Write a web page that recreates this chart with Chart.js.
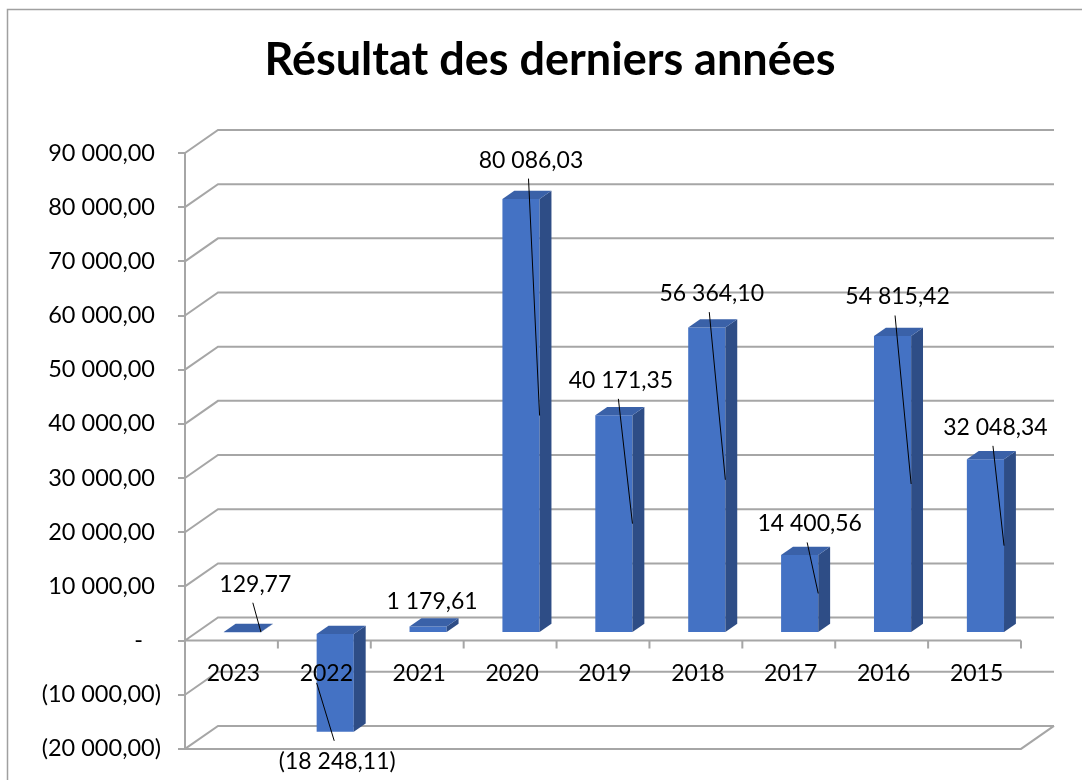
<!DOCTYPE html>
<html>
<head>
<meta charset="utf-8">
<script src="https://cdn.jsdelivr.net/npm/chart.js@4.4.1/dist/chart.umd.min.js"></script>
<style>
    html, body { margin: 0; padding: 0; background: #fff; }
    #wrap { width: 1082px; height: 780px; }
</style>
</head>
<body>
<div id="wrap"><canvas id="myChart"></canvas></div>
<script>
// data
const chartTitle = 'Résultat des derniers années';
const years = ['2023', '2022', '2021', '2020', '2019', '2018', '2017', '2016', '2015'];
const results = [129.77, -18248.11, 1179.61, 80086.03, 40171.35, 56364.10, 14400.56, 54815.42, 32048.34];
const yTickValues = [-20000, -10000, 0, 10000, 20000, 30000, 40000, 50000, 60000, 70000, 80000, 90000];

// where Excel put the value labels (px from the end of the bar) and which ones have a leader line
const labelShift = [[13, -48], [2, 30], [4, -25], [10, -39], [7, -35], [5, -34], [10, -31], [5, -39], [10, -32]];
const hasLeader = [true, true, false, true, true, true, true, true, true];

// fake 3d: depth of the plot box and of the bars
const DX = 33, DY = -23;
const BAR_FRONT = 0.33, BAR_DEPTH = 0.36;
const GRID = '#A6A6A6';
const FONT = 'Lato, "Open Sans", sans-serif';

function fmt(v) {
    const parts = Math.abs(v).toFixed(2).split('.');
    const txt = parts[0].replace(/\B(?=(\d{3})+(?!\d))/g, ' ') + ',' + parts[1];
    return v < 0 ? '(' + txt + ')' : txt;
}

// accounting style axis labels
function axisLabel(v) {
    if (v === 0) return '-   ';
    if (v < 0) return fmt(v);
    return fmt(v) + ' ';
}

const excel3d = {
    id: 'excel3d',
    beforeDraw(chart) {
        const ctx = chart.ctx;
        ctx.save();
        ctx.fillStyle = '#fff';
        ctx.fillRect(0, 0, chart.width, chart.height);
        ctx.strokeStyle = '#A0A0A0';
        ctx.lineWidth = 1.5;
        ctx.strokeRect(7.5, 9.5, chart.width + 20, chart.height + 20);
        // title (Excel centres it a bit right of the canvas centre)
        ctx.fillStyle = '#000';
        ctx.font = 'bold 45px ' + FONT;
        ctx.textAlign = 'center';
        ctx.textBaseline = 'middle';
        ctx.fillText(chartTitle, 550, 60);
        ctx.restore();
    },
    beforeDatasetsDraw(chart) {
        const ctx = chart.ctx;
        const { left, right, bottom } = chart.chartArea;
        const y = chart.scales.y;
        const x = chart.scales.x;
        ctx.save();
        ctx.strokeStyle = GRID;
        ctx.lineWidth = 2;
        ctx.beginPath();
        yTickValues.forEach(v => {
            const py = y.getPixelForValue(v);
            ctx.moveTo(left, py);
            ctx.lineTo(left + DX, py + DY);
            ctx.lineTo(right + DX, py + DY);
        });
        // floor edge
        ctx.moveTo(left, bottom);
        ctx.lineTo(right, bottom);
        ctx.lineTo(right + DX, bottom + DY);
        // category axis at zero with its tick marks
        const y0 = y.getPixelForValue(0);
        ctx.moveTo(left, y0);
        ctx.lineTo(right, y0);
        const step = x.getPixelForValue(1) - x.getPixelForValue(0);
        years.forEach((yr, i) => {
            const bx = x.getPixelForValue(i) + step / 2;
            ctx.moveTo(bx, y0);
            ctx.lineTo(bx, y0 + 8);
        });
        ctx.stroke();
        ctx.restore();

        // the front faces are drawn by chart.js, pushed back into the box
        ctx.save();
        ctx.translate(DX * BAR_FRONT, DY * BAR_FRONT);
    },
    afterDatasetsDraw(chart) {
        const ctx = chart.ctx;
        ctx.restore();
        const ox = DX * BAR_FRONT, oy = DY * BAR_FRONT;
        const bdx = DX * BAR_DEPTH, bdy = DY * BAR_DEPTH;
        const bars = chart.getDatasetMeta(0).data;
        const x = chart.scales.x;
        const y = chart.scales.y;

        ctx.save();
        bars.forEach(bar => {
            const p = bar.getProps(['x', 'y', 'base', 'width'], true);
            const l = p.x - p.width / 2 + ox, r = p.x + p.width / 2 + ox;
            const top = Math.min(p.y, p.base) + oy, bot = Math.max(p.y, p.base) + oy;
            // side
            ctx.fillStyle = '#2E4D86';
            ctx.beginPath();
            ctx.moveTo(r, top);
            ctx.lineTo(r + bdx, top + bdy);
            ctx.lineTo(r + bdx, bot + bdy);
            ctx.lineTo(r, bot);
            ctx.closePath();
            ctx.fill();
            // top
            ctx.fillStyle = '#3A61A8';
            ctx.beginPath();
            ctx.moveTo(l, top);
            ctx.lineTo(l + bdx, top + bdy);
            ctx.lineTo(r + bdx, top + bdy);
            ctx.lineTo(r, top);
            ctx.closePath();
            ctx.fill();
        });

        // category labels
        ctx.fillStyle = '#000';
        ctx.font = '23px ' + FONT;
        ctx.textAlign = 'center';
        ctx.textBaseline = 'middle';
        const labelY = y.getPixelForValue(0) + 33;
        years.forEach((yr, i) => {
            ctx.fillText(yr, x.getPixelForValue(i) + 2, labelY);
        });

        // value labels with leader lines
        ctx.strokeStyle = '#000';
        ctx.lineWidth = 1;
        bars.forEach((bar, i) => {
            const p = bar.getProps(['x', 'y', 'base', 'width'], true);
            const lx = p.x + ox + labelShift[i][0];
            const ly = p.y + oy + labelShift[i][1];
            ctx.fillText(fmt(results[i]), lx, ly);
            if (!hasLeader[i]) return;
            const mid = (p.y + p.base) / 2 + oy;
            ctx.beginPath();
            if (results[i] >= 0) {
                ctx.moveTo(lx - 2.5, ly + 18.5);
                ctx.lineTo(p.x + p.width / 2 + ox, mid);
            } else {
                ctx.moveTo(lx - 3, ly - 21);
                ctx.lineTo(p.x - p.width / 2 + ox, mid);
            }
            ctx.stroke();
        });
        ctx.restore();
    }
};

function createChart() {
    const ctx = document.getElementById('myChart').getContext('2d');
    new Chart(ctx, {
        type: 'bar',
        data: {
            labels: years,
            datasets: [{
                label: 'Résultat',
                data: results,
                backgroundColor: '#4472C4',
                borderWidth: 0,
                categoryPercentage: 1,
                barPercentage: 0.4,
                clip: false
            }]
        },
        options: {
            responsive: true,
            maintainAspectRatio: false,
            animation: false,
            events: [],
            layout: { padding: { left: 0, right: 61, top: 153, bottom: 27 } },
            plugins: {
                legend: { display: false },
                tooltip: { enabled: false },
                title: { display: false }
            },
            scales: {
                x: { display: false },
                y: {
                    min: -20000,
                    max: 90000,
                    afterBuildTicks: s => { s.ticks = yTickValues.map(v => ({ value: v })); },
                    afterFit: s => { s.width = 185; },
                    ticks: {
                        color: '#000',
                        padding: 17,
                        font: { family: FONT, size: 23.5 },
                        callback: v => axisLabel(v)
                    },
                    grid: { drawOnChartArea: false, tickLength: 7, color: GRID, lineWidth: 2 },
                    border: { color: GRID, width: 2 }
                }
            }
        },
        plugins: [excel3d]
    });
}

document.addEventListener('DOMContentLoaded', createChart);
</script>
</body>
</html>
